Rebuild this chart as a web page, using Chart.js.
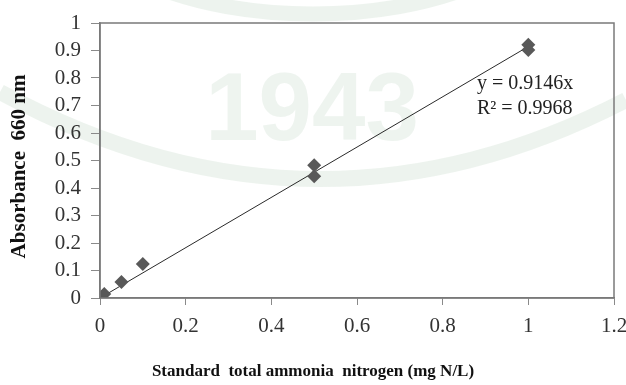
<!DOCTYPE html>
<html>
<head>
<meta charset="utf-8">
<script src="https://cdn.jsdelivr.net/npm/chart.js@4.4.1/dist/chart.umd.min.js"></script>
<style>
  html, body { margin: 0; padding: 0; background: #ffffff; }
  #wrap { width: 626px; height: 385px; }
</style>
</head>
<body>
<div id="wrap"><canvas id="c" width="626" height="385"></canvas></div>
<script>
// Standard concentrations (mg N/L) and measured absorbance at 660 nm
const concentrations = [0.01, 0.05, 0.1, 0.5, 0.5, 1.0, 1.0];
const absorbances    = [0.015, 0.058, 0.124, 0.483, 0.443, 0.921, 0.902];

// Linear fit through origin
const slope = 0.9146;
const rSquared = 0.9968;
const fitRange = [0, 1];

const xTicks = [0, 0.2, 0.4, 0.6, 0.8, 1, 1.2];
const yTicks = [0, 0.1, 0.2, 0.3, 0.4, 0.5, 0.6, 0.7, 0.8, 0.9, 1];

const xTitle = 'Standard  total ammonia  nitrogen (mg N/L)';
const yTitle = 'Absorbance  660 nm';
const equationLines = ['y = ' + slope + 'x', 'R\u00B2 = ' + rSquared];

const points = concentrations.map((x, i) => ({ x: x, y: absorbances[i] }));
const fitLine = fitRange.map(x => ({ x: x, y: slope * x }));

const serif = "'Liberation Serif', 'Times New Roman', serif";

// Faint institutional watermark behind the plot
const watermark = {
  id: 'watermark',
  beforeDraw(chart) {
    const ctx = chart.ctx;
    ctx.save();
    ctx.fillStyle = '#ffffff';
    ctx.fillRect(0, 0, chart.width, chart.height);
    ctx.strokeStyle = 'rgba(222,234,224,0.55)';
    ctx.lineWidth = 16;
    ctx.beginPath();
    ctx.moveTo(0, 92);
    ctx.quadraticCurveTo(313, 262, 626, 100);
    ctx.stroke();
    ctx.lineWidth = 15;
    ctx.beginPath();
    ctx.ellipse(313, -92, 235, 106, 0, 0, Math.PI * 2);
    ctx.stroke();
    ctx.fillStyle = 'rgba(222,234,224,0.5)';
    ctx.font = "bold 96px 'Liberation Sans', sans-serif";
    ctx.textAlign = 'center';
    ctx.textBaseline = 'middle';
    ctx.fillText('1943', 312, 114);
    ctx.restore();
  }
};

// Plot frame, axis titles and regression equation
const frameAndLabel = {
  id: 'frameAndLabel',
  afterDatasetsDraw(chart) {
    const { ctx, chartArea: a, scales } = chart;
    ctx.save();
    ctx.strokeStyle = '#7a7a7a';
    ctx.lineWidth = 1.5;
    ctx.strokeRect(a.left, a.top, a.right - a.left, a.bottom - a.top);

    ctx.fillStyle = '#222222';
    ctx.font = '20px ' + serif;
    ctx.textAlign = 'left';
    ctx.textBaseline = 'middle';
    const tx = scales.x.getPixelForValue(0.88);
    ctx.fillText(equationLines[0], tx, scales.y.getPixelForValue(0.78));
    ctx.fillText(equationLines[1], tx, scales.y.getPixelForValue(0.69));

    ctx.fillStyle = '#111111';
    ctx.textAlign = 'center';
    ctx.font = 'bold 17px ' + serif;
    ctx.fillText(xTitle, chart.width / 2, 372);

    ctx.font = 'bold 21px ' + serif;
    ctx.translate(20, (a.top + a.bottom) / 2 + 6);
    ctx.rotate(-Math.PI / 2);
    ctx.fillText(yTitle, 0, 0);
    ctx.restore();
  }
};

new Chart(document.getElementById('c'), {
  type: 'scatter',
  data: {
    datasets: [
      {
        label: 'Standards',
        data: points,
        pointStyle: 'rectRot',
        pointRadius: 7,
        backgroundColor: '#595959',
        borderColor: '#595959',
        borderWidth: 0,
        order: 1
      },
      {
        type: 'line',
        label: 'Linear fit',
        data: fitLine,
        borderColor: '#2a2a2a',
        borderWidth: 1,
        pointRadius: 0,
        fill: false,
        order: 2
      }
    ]
  },
  options: {
    responsive: false,
    animation: false,
    devicePixelRatio: 1,
    layout: { padding: { left: 0, right: 12, top: 23, bottom: 0 } },
    plugins: {
      legend: { display: false },
      tooltip: { enabled: false }
    },
    scales: {
      x: {
        type: 'linear',
        min: 0,
        max: 1.2,
        afterBuildTicks(scale) { scale.ticks = xTicks.map(v => ({ value: v })); },
        afterFit(scale) { scale.height = 87; scale.paddingLeft = 0; scale.paddingRight = 0; },
        grid: { drawOnChartArea: false, drawTicks: true, tickLength: 7, color: '#8a8a8a', lineWidth: 1 },
        border: { display: true, color: '#7a7a7a', width: 1.5 },
        ticks: {
          color: '#333333',
          font: { family: serif, size: 21 },
          padding: 9,
          maxRotation: 0,
          autoSkip: false,
          callback: v => String(v)
        },
        title: { display: false }
      },
      y: {
        type: 'linear',
        min: 0,
        max: 1,
        afterBuildTicks(scale) { scale.ticks = yTicks.map(v => ({ value: v })); },
        afterFit(scale) { scale.width = 100; scale.paddingTop = 0; scale.paddingBottom = 0; },
        grid: { drawOnChartArea: false, drawTicks: true, tickLength: 9, color: '#8a8a8a', lineWidth: 1 },
        border: { display: true, color: '#7a7a7a', width: 1.5 },
        ticks: {
          color: '#333333',
          font: { family: serif, size: 21 },
          padding: 10,
          autoSkip: false,
          callback: v => String(v)
        },
        title: { display: false }
      }
    }
  },
  plugins: [watermark, frameAndLabel]
});
</script>
</body>
</html>
